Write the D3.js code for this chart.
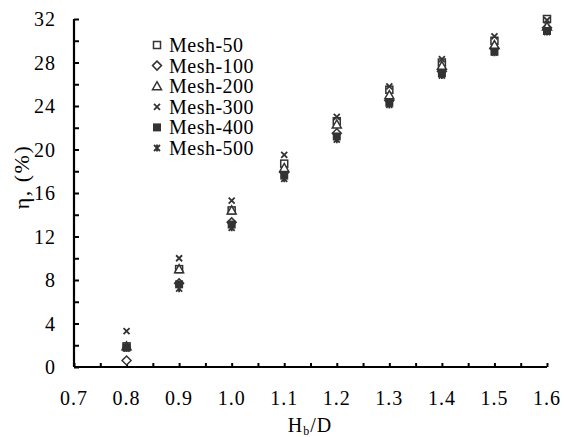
<!DOCTYPE html>
<html>
<head>
<meta charset="utf-8">
<script src="https://cdn.jsdelivr.net/npm/d3@7"></script>
<style>
  body { margin: 0; background: #fff; }
  text { font-family: "Liberation Serif", "Times New Roman", serif; fill: #000; }
</style>
</head>
<body>
<script>
"use strict";

var xValues = [0.8, 0.9, 1.0, 1.1, 1.2, 1.3, 1.4, 1.5, 1.6];
var seriesNames = ["Mesh-50", "Mesh-100", "Mesh-200", "Mesh-300", "Mesh-400", "Mesh-500"];
var mesh50  = [1.9, 9.0, 14.4, 18.7, 22.6, 25.5, 28.0, 30.0, 32.0];
var mesh100 = [0.6, 7.7, 13.3, 17.9, 21.5, 24.5, 27.2, 29.3, 31.2];
var mesh200 = [1.9, 9.0, 14.4, 18.3, 22.3, 25.0, 27.7, 29.6, 31.3];
var mesh300 = [3.3, 10.0, 15.3, 19.5, 23.0, 25.8, 28.3, 30.4, 31.9];
var mesh400 = [1.8, 7.6, 13.1, 17.6, 21.2, 24.3, 27.0, 29.0, 30.9];
var mesh500 = [1.7, 7.2, 12.8, 17.3, 20.9, 24.1, 26.8, 28.9, 30.8];
var xTicks = [0.7, 0.8, 0.9, 1.0, 1.1, 1.2, 1.3, 1.4, 1.5, 1.6];
var yTicks = [0, 4, 8, 12, 16, 20, 24, 28, 32];

(function () {
  var allSeries = [mesh50, mesh100, mesh200, mesh300, mesh400, mesh500];
  var shapes = ["square", "diamond", "triangle", "cross", "filled", "star"];
  var ink = "#333";

  var width = 565, height = 437;
  var padLeft = 74, padRight = 547, padTop = 19, padBottom = 367;

  var svg = d3.select("body").append("svg")
    .attr("width", width)
    .attr("height", height);

  var xScale = d3.scaleLinear().domain([0.7, 1.6]).range([padLeft, padRight]);
  var yScale = d3.scaleLinear().domain([0, 32]).range([padBottom, padTop]);

  // axes: ticks point inward, labels drawn separately
  var xAxis = svg.append("g")
    .attr("transform", "translate(0," + padBottom + ")")
    .call(d3.axisBottom(xScale).tickValues(d3.range(0.7, 1.6001, 0.05)).tickSize(-4).tickFormat(""));
  xAxis.selectAll(".tick line").attr("stroke-width", 2);
  xAxis.select(".domain").attr("stroke-width", 2.2).attr("d", "M" + padLeft + ",0H" + padRight);

  var yAxis = svg.append("g")
    .attr("transform", "translate(" + padLeft + ",0)")
    .call(d3.axisLeft(yScale).tickValues(d3.range(0, 32.01, 2)).tickSize(-5).tickFormat(""));
  yAxis.selectAll(".tick line").attr("stroke-width", 2);
  yAxis.select(".domain").attr("stroke-width", 2.2).attr("d", "M0," + padTop + "V" + padBottom);

  svg.append("g").selectAll("text")
    .data(xTicks)
    .enter().append("text")
    .attr("x", function (d) { return xScale(d); })
    .attr("y", 405)
    .attr("text-anchor", "middle")
    .attr("font-size", 20)
    .attr("letter-spacing", 1)
    .text(function (d) { return d.toFixed(1); });

  svg.append("g").selectAll("text")
    .data(yTicks)
    .enter().append("text")
    .attr("x", 56)
    .attr("y", function (d) { return yScale(d) + 7; })
    .attr("text-anchor", "end")
    .attr("font-size", 20)
    .attr("letter-spacing", 1)
    .text(function (d) { return d; });

  // axis titles
  var xt = svg.append("text")
    .attr("x", 310)
    .attr("y", 432)
    .attr("text-anchor", "middle")
    .attr("font-size", 20)
    .attr("letter-spacing", 1);
  xt.append("tspan").text("H");
  xt.append("tspan").attr("font-size", 12).attr("dy", 3).text("b");
  xt.append("tspan").attr("dy", -3).text("/D");

  svg.append("text")
    .attr("transform", "translate(29,177) rotate(-90)")
    .attr("text-anchor", "middle")
    .attr("font-size", 22)
    .attr("letter-spacing", 1.5)
    .text("η, (%)");

  function drawMarker(g, shape, cx, cy) {
    if (shape === "square") {
      g.append("rect").attr("x", cx - 3.5).attr("y", cy - 3.5).attr("width", 7).attr("height", 7)
        .attr("fill", "#fff").attr("stroke", ink).attr("stroke-width", 1.5);
    } else if (shape === "diamond") {
      g.append("path").attr("d", "M" + cx + "," + (cy - 4.5) + "L" + (cx + 4.5) + "," + cy + "L" + cx + "," + (cy + 4.5) + "L" + (cx - 4.5) + "," + cy + "Z")
        .attr("fill", "#fff").attr("stroke", ink).attr("stroke-width", 1.5);
    } else if (shape === "triangle") {
      g.append("path").attr("d", "M" + cx + "," + (cy - 4.5) + "L" + (cx + 4.5) + "," + (cy + 3.5) + "L" + (cx - 4.5) + "," + (cy + 3.5) + "Z")
        .attr("fill", "#fff").attr("stroke", ink).attr("stroke-width", 1.5);
    } else if (shape === "cross") {
      g.append("path").attr("d", "M" + (cx - 3) + "," + (cy - 3) + "L" + (cx + 3) + "," + (cy + 3) + "M" + (cx + 3) + "," + (cy - 3) + "L" + (cx - 3) + "," + (cy + 3))
        .attr("stroke", ink).attr("stroke-width", 1.8);
    } else if (shape === "filled") {
      g.append("rect").attr("x", cx - 4).attr("y", cy - 4).attr("width", 8).attr("height", 8)
        .attr("fill", ink);
    } else {
      g.append("path").attr("d", "M" + (cx - 3) + "," + (cy - 3) + "L" + (cx + 3) + "," + (cy + 3) + "M" + (cx + 3) + "," + (cy - 3) + "L" + (cx - 3) + "," + (cy + 3) + "M" + cx + "," + (cy - 3.5) + "V" + (cy + 3.5))
        .attr("stroke", ink).attr("stroke-width", 1.8);
    }
  }

  // data points
  allSeries.forEach(function (vals, i) {
    var g = svg.append("g").attr("class", "series-" + i);
    vals.forEach(function (v, j) {
      drawMarker(g, shapes[i], xScale(xValues[j]), yScale(v));
    });
  });

  // legend
  var legend = svg.append("g").attr("class", "legend");
  seriesNames.forEach(function (name, i) {
    var y = 45 + i * 20.6;
    drawMarker(legend, shapes[i], 157, y);
    legend.append("text")
      .attr("x", 169)
      .attr("y", y + 7)
      .attr("font-size", 20)
      .attr("letter-spacing", 0.5)
      .text(name);
  });
})();
</script>
</body>
</html>
